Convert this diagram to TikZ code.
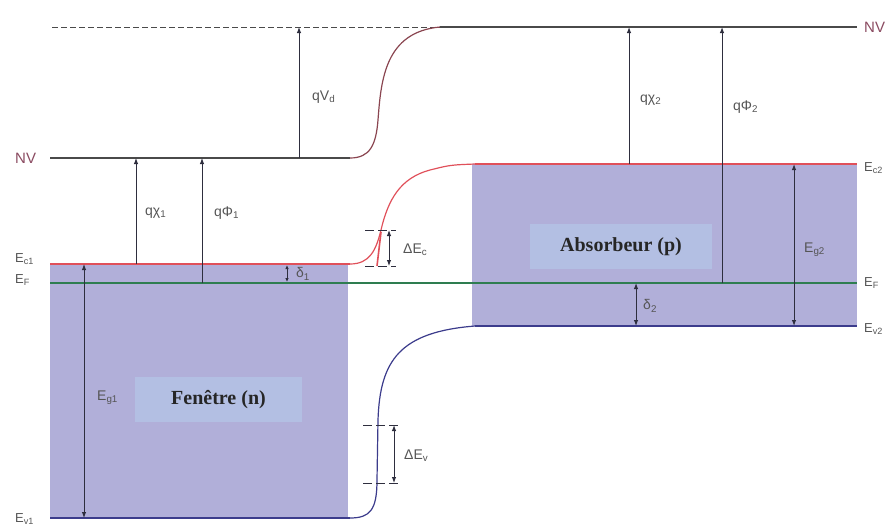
\documentclass[tikz,border=0pt]{standalone}
\usepackage{fontspec}
\setmainfont{Liberation Sans}
\newfontfamily\boxfont{Liberation Serif}
\usetikzlibrary{arrows.meta}
\definecolor{fillband}{HTML}{B1AFD9}
\definecolor{boxblue}{HTML}{B3BFE3}
\definecolor{cband}{HTML}{E0505A}
\definecolor{vband}{HTML}{3C3C8C}
\definecolor{fermi}{HTML}{2E7D50}
\definecolor{nvline}{HTML}{4A4A4A}
\definecolor{nvcurve}{HTML}{8A4550}
\definecolor{lbl}{HTML}{555555}
\definecolor{nvlbl}{HTML}{8A4A60}
\definecolor{arr}{HTML}{2E2E3E}
\newcommand\sbs[1]{\textsubscript{#1}}
\begin{document}
\begin{tikzpicture}[x=1pt,y=-1pt,
  lab/.style={text=lbl,font=\fontsize{14}{16}\selectfont,inner sep=0pt,anchor=west},
  elab/.style={text=lbl,font=\fontsize{13}{15}\selectfont,inner sep=0pt,anchor=west},
  nvlab/.style={text=nvlbl,font=\fontsize{15}{17}\selectfont,inner sep=0pt,anchor=west},
  upar/.style={draw=arr,line width=1pt,-{Latex[length=6pt,width=4.5pt]}},
  dblar/.style={draw=arr,line width=1pt,{Latex[length=6pt,width=4.5pt]}-{Latex[length=6pt,width=4.5pt]}},
  smallar/.style={draw=arr,line width=1pt,{Latex[length=4pt,width=3.5pt]}-{Latex[length=4pt,width=3.5pt]}},
  tickline/.style={draw=arr,line width=0.7pt,dash pattern=on 9pt off 4pt},
  region/.style={fill=boxblue,inner sep=0pt,font=\boxfont\bfseries\fontsize{20}{24}\selectfont,text=black!85}]
\useasboundingbox (0,0) rectangle (886,525);
% band fills
\fill[fillband] (50,264) rectangle (348,518);
\fill[fillband] (472,164) rectangle (857,326);
% key coordinates
\coordinate (nvL0) at (50,158);  \coordinate (nvL1) at (350,158);
\coordinate (nvR0) at (440,27);  \coordinate (nvR1) at (857,27);
\coordinate (dash0) at (52,27);
\coordinate (ec10) at (50,264);  \coordinate (ec11) at (350,264);
\coordinate (ec20) at (475,164); \coordinate (ec21) at (857,164);
\coordinate (ef0) at (50,283);   \coordinate (ef1) at (857,283);
\coordinate (ev10) at (50,518);  \coordinate (ev11) at (350,518);
\coordinate (ev20) at (475,326); \coordinate (ev21) at (857,326);
% vacuum level
\draw[nvline,line width=1pt,dash pattern=on 6pt off 3pt] (dash0) -- (nvR0);
\draw[nvline,line width=1.2pt] (nvL0) -- (nvL1);
\draw[nvcurve,line width=1.2pt] (nvL1) .. controls (370,158) and (376,145) .. (378,120)
   .. controls (381,80) and (385,32) .. (nvR0);
\draw[nvline,line width=1.2pt] (nvR0) -- (nvR1);
% conduction band
\draw[cband,line width=1.8pt] (ec10) -- (ec11);
\draw[cband,line width=1.2pt] (ec11) .. controls (370,264) and (376,250) .. (381,230)
   .. controls (388,200) and (400,178) .. (430,170) .. controls (450,165) .. (ec20);
\draw[cband,line width=1.3pt] (ec20) -- (ec21);
% Fermi level
\draw[fermi,line width=1.2pt] (ef0) -- (ef1);
% valence band
\draw[vband,line width=1.4pt] (ev10) -- (ev11);
\draw[vband,line width=1.2pt] (ev11) .. controls (370,518) and (377,510) .. (377,480)
   -- (378,420) .. controls (380,360) and (400,332) .. (ev20);
\draw[vband,line width=1.3pt] (ev20) -- (ev21);
% region labels
\node[region,minimum width=167pt,minimum height=45pt] (fen) at (218.5,399.5) {Fenêtre (n)};
\node[region,minimum width=182pt,minimum height=45pt] (abs) at (621,246.5) {Absorbeur (p)};
% arrows
\coordinate (a1b) at (136,264); \coordinate (a1t) at (136,158);
\coordinate (a2b) at (202,283); \coordinate (a2t) at (202,158);
\coordinate (a3b) at (299,158); \coordinate (a3t) at (299,27);
\coordinate (a4b) at (629,164); \coordinate (a4t) at (629,27);
\coordinate (a5b) at (722,283); \coordinate (a5t) at (722,27);
\draw[upar] (a1b) -- (a1t);
\draw[upar] (a2b) -- (a2t);
\draw[upar] (a3b) -- (a3t);
\draw[upar] (a4b) -- (a4t);
\draw[upar] (a5b) -- (a5t);
\coordinate (g1t) at (84,264); \coordinate (g1b) at (84,518);
\coordinate (g2t) at (794,164); \coordinate (g2b) at (794,326);
\coordinate (d1t) at (287,265); \coordinate (d1b) at (287,282);
\coordinate (d2t) at (636,283); \coordinate (d2b) at (636,326);
\draw[dblar] (g1t) -- (g1b);
\draw[dblar] (g2t) -- (g2b);
\draw[smallar] (d1t) -- (d1b);
\draw[dblar] (d2t) -- (d2b);
% Delta Ec
\coordinate (c0l) at (365,230); \coordinate (c0r) at (396,230);
\coordinate (c1l) at (365,266); \coordinate (c1r) at (396,266);
\coordinate (cat) at (389,230); \coordinate (cab) at (389,266);
\draw[tickline] (c0l) -- (c0r);
\draw[tickline] (c1l) -- (c1r);
\draw[cband,line width=1.6pt] (377,266) -- (381,232);
\draw[dblar] (cat) -- (cab);
% Delta Ev
\coordinate (v0l) at (363,425); \coordinate (v0r) at (398,425);
\coordinate (v1l) at (363,483); \coordinate (v1r) at (398,483);
\coordinate (vat) at (394,425); \coordinate (vab) at (394,483);
\draw[tickline] (v0l) -- (v0r);
\draw[tickline] (v1l) -- (v1r);
\draw[dblar] (vat) -- (vab);
% labels
\node[nvlab] (nvl) at (15,158) {NV};
\node[nvlab] (nvr) at (864,27) {NV};
\node[lab] (lvd) at (312,97) {qV\sbs{d}};
\node[lab] (lx1) at (145,213) {qχ\sbs{1}};
\node[lab] (lp1) at (214,213) {qΦ\sbs{1}};
\node[lab] (lx2) at (640,100) {qχ\sbs{2}};
\node[lab] (lp2) at (733,107) {qΦ\sbs{2}};
\node[lab] (ld1) at (296,274) {δ\sbs{1}};
\node[lab] (ld2) at (643,306) {δ\sbs{2}};
\node[lab] (ldc) at (403,250) {ΔE\sbs{c}};
\node[lab] (ldv) at (404,456) {ΔE\sbs{v}};
\node[lab] (lg1) at (97,398) {E\sbs{g1}};
\node[lab] (lg2) at (804,250) {E\sbs{g2}};
\node[elab] (lec1) at (15,259) {E\sbs{c1}};
\node[elab] (lef1) at (15,280) {E\sbs{F}};
\node[elab] (lev1) at (15,519) {E\sbs{v1}};
\node[elab] (lec2) at (864,168) {E\sbs{c2}};
\node[elab] (lef2) at (864,283) {E\sbs{F}};
\node[elab] (lev2) at (864,329) {E\sbs{v2}};
\end{tikzpicture}
\end{document}
